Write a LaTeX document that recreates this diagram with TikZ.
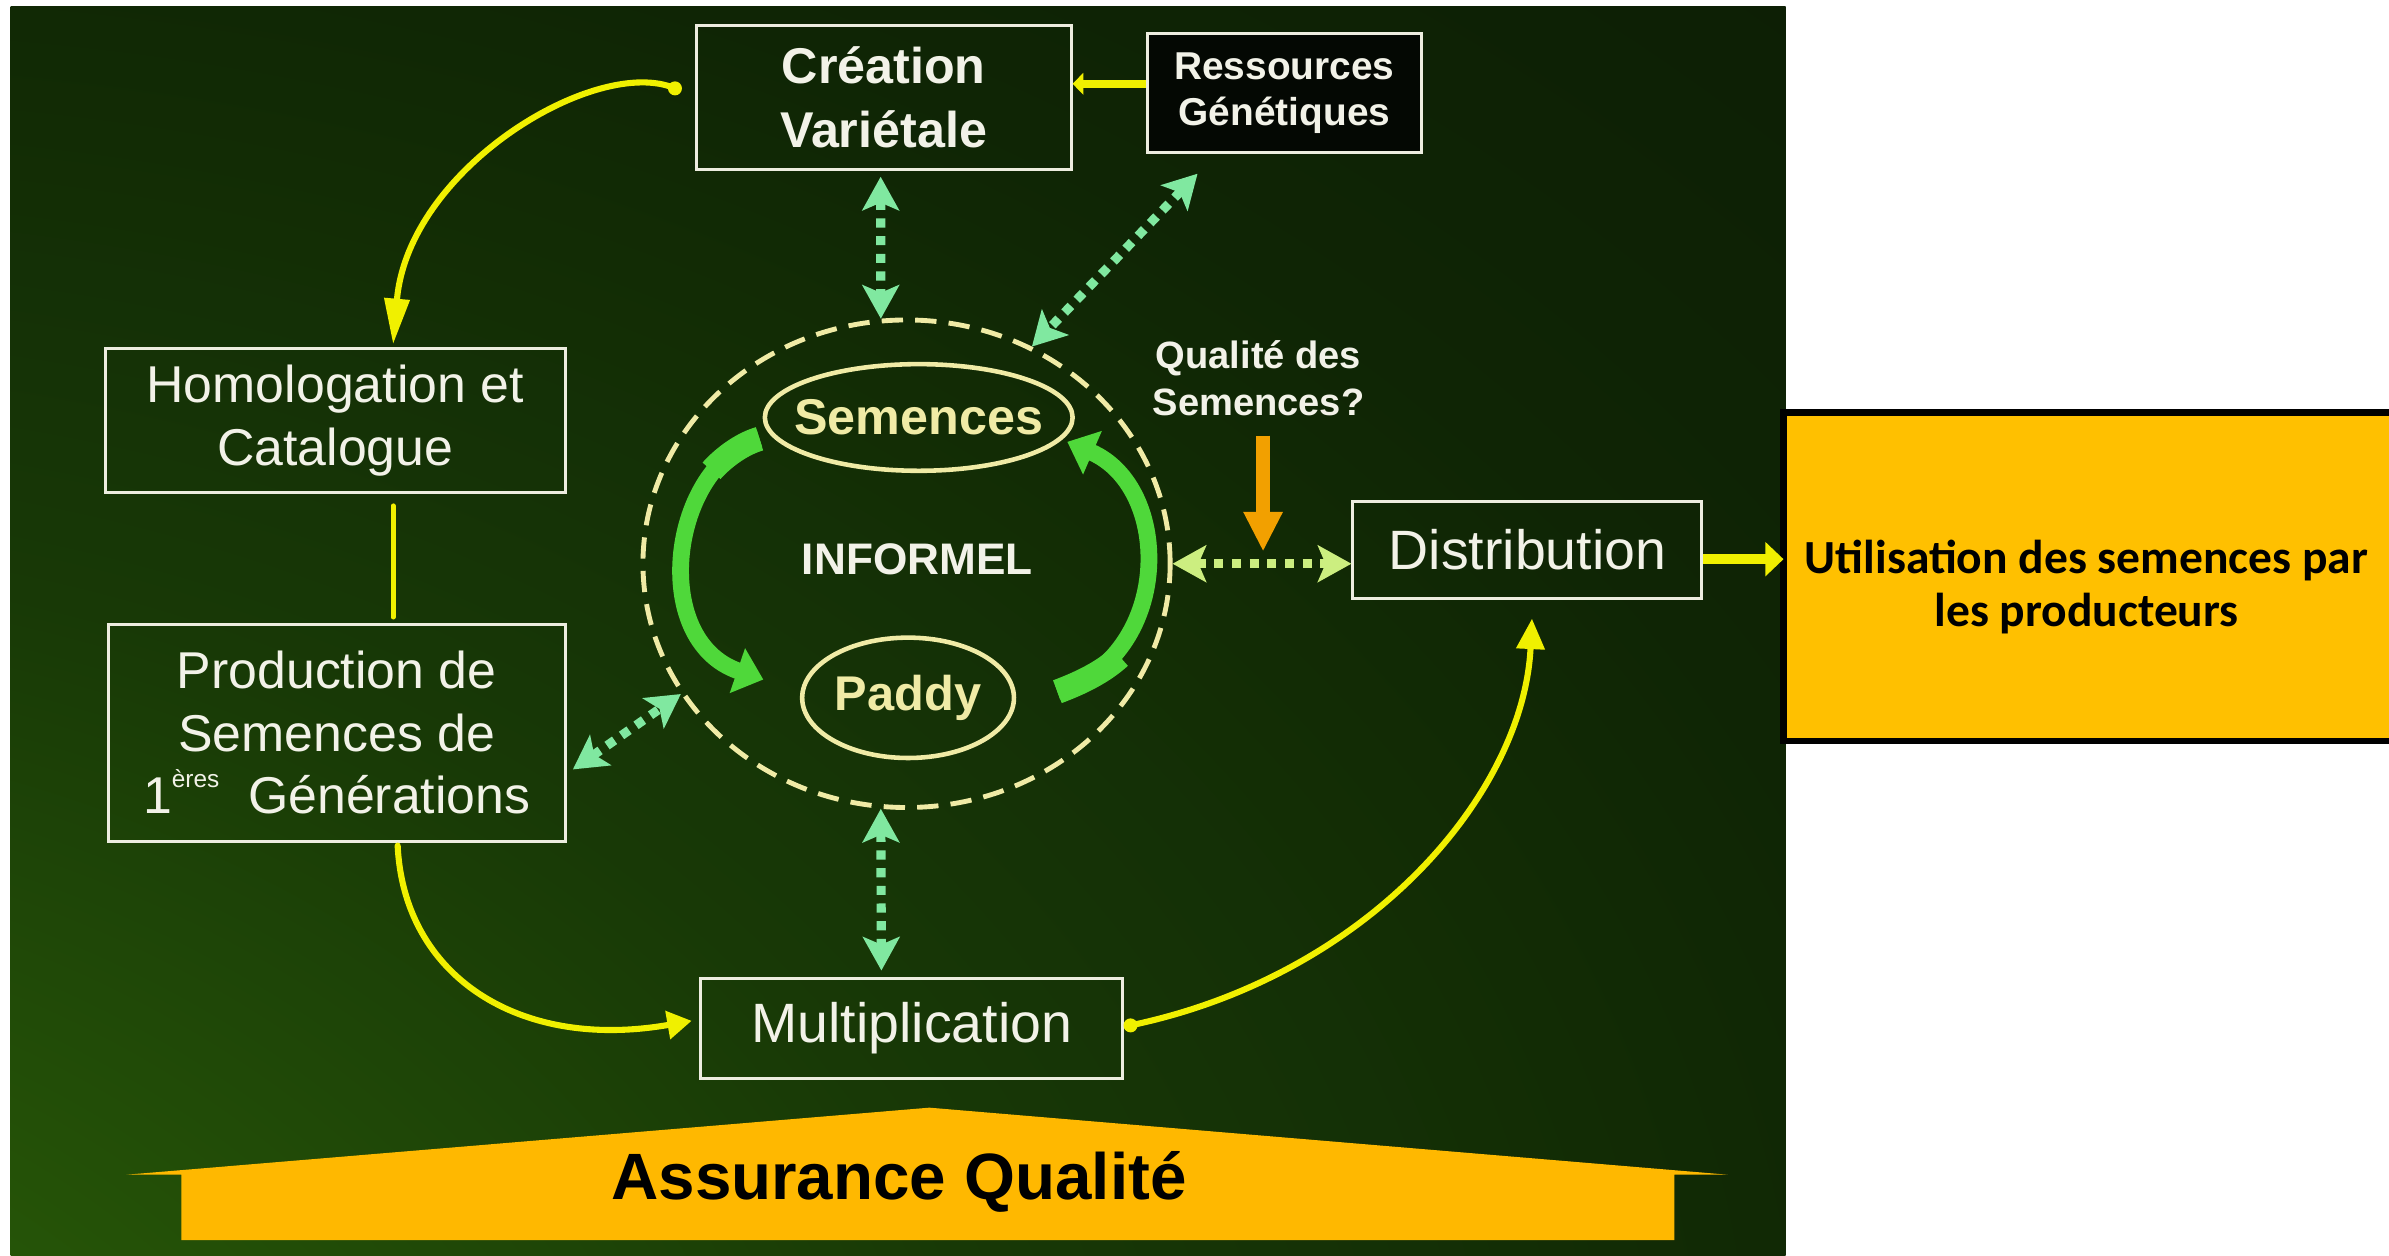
\documentclass[tikz,border=0pt]{standalone}
\usepackage{fontspec}
\setmainfont{Liberation Sans}
\newfontfamily\calibri{Carlito}
\usetikzlibrary{arrows.meta,shapes.geometric,calc}
\definecolor{bgA}{HTML}{3E8008}
\definecolor{bgB}{HTML}{295B08}
\definecolor{bgC}{HTML}{183906}
\definecolor{bgD}{HTML}{0F2505}
\definecolor{bgE}{HTML}{0A1904}
\definecolor{bgF}{HTML}{071103}
\definecolor{bgG}{HTML}{050B03}
\definecolor{resfill}{HTML}{040803}
\definecolor{boxline}{HTML}{EDEDE0}
\definecolor{txt}{HTML}{F2F2E8}
\definecolor{pale}{HTML}{F0EBA6}
\definecolor{mint}{HTML}{80E8A0}
\definecolor{limeg}{HTML}{CCEE80}
\definecolor{ylw}{HTML}{F0F000}
\definecolor{grn}{HTML}{4FD83A}
\definecolor{orng}{HTML}{F2A000}
\definecolor{gold}{HTML}{FFB800}
\definecolor{utilfill}{HTML}{FFC000}
\pgfdeclareradialshading{bgshade}{\pgfpoint{-50bp}{-50bp}}{color(0bp)=(bgA); color(20bp)=(bgB); color(40bp)=(bgC); color(60bp)=(bgD); color(85bp)=(bgE); color(115bp)=(bgF); color(150bp)=(bgG)}
\tikzset{
  stagebox/.style={draw=boxline, line width=1pt, text=txt, align=center, inner sep=0pt,
    font=\fontsize{17}{20.5}\selectfont},
  dotarrow/.style={draw=mint, line width=3pt, dash pattern=on 3pt off 2.8pt,
    arrows={Stealth[length=11pt,width=12pt,inset=2.5pt]-Stealth[length=11pt,width=12pt,inset=2.5pt]}},
  ycurve/.style={draw=ylw, line width=2pt, line cap=round},
  garrow/.style={draw=grn, line width=5.5pt, arrows={-Triangle[length=9pt,width=15pt]}},
  gtail/.style={draw=grn, line width=8pt},
  lbl/.style={text=pale, font=\bfseries\fontsize{16.5}{18}\selectfont},
  ring/.style={ellipse, draw=pale, line width=1.5pt, inner sep=0pt}
}
\begin{document}
\begin{tikzpicture}[x=0.5pt,y=-0.5pt]
\useasboundingbox (0,0) rectangle (1568,824);
\fill[white] (0,0) rectangle (1568,824);
\shade[shading=bgshade] (7,4) rectangle (1172,824);

% Assurance Qualite
\fill[gold] (83,771) -- (610,727) -- (1134,771) -- (1099,771) -- (1099,814) -- (119,814) -- (119,771) -- cycle;
\node[font=\bfseries\fontsize{21.5}{24}\selectfont, text=black] (aq) at (590,776) {Assurance Qualité};

% boxes
\node[stagebox, font=\bfseries\fontsize{16.5}{21}\selectfont, minimum width=123pt, minimum height=47pt] (crea) at (580,64) {Création\\Variétale};
\node[stagebox, fill=resfill, font=\bfseries\fontsize{12.75}{15}\selectfont, minimum width=90pt, minimum height=39pt] (res) at (843,61) {Ressources\\Génétiques};
\node[stagebox, minimum width=151pt, minimum height=47pt] (homo) at (220,276) {Homologation et\\Catalogue};
\node[stagebox, minimum width=150pt, minimum height=71pt] (prod) at (221,481) {Production de\\Semences de\\1\raisebox{0.5em}{\fontsize{8}{8}\selectfont ères}\ \ Générations};
\node[stagebox, font=\fontsize{18.2}{21}\selectfont, minimum width=138.5pt, minimum height=33pt] (mult) at (598.5,675) {Multiplication};
\node[stagebox, font=\fontsize{18.2}{21}\selectfont, minimum width=114.5pt, minimum height=32pt] (dist) at (1002.5,361) {Distribution};

% informal circle
\node[ring, line width=1.6pt, dash pattern=on 7pt off 4pt, minimum width=173pt, minimum height=160pt] (circ) at (595,370) {};
\node[ring, minimum width=101pt, minimum height=35pt, label={[lbl]center:Semences}] (sem) at (603,274) {};
\node[ring, minimum width=69.5pt, minimum height=39.5pt, label={[lbl, font=\bfseries\fontsize{16}{18}\selectfont]center:Paddy}] (paddy) at (596,458) {};
\node[text=txt, font=\bfseries\fontsize{14.5}{16}\selectfont] (inf) at (602,367) {INFORMEL};

\node[text=txt, font=\bfseries\fontsize{12.5}{15.5}\selectfont, align=center] (qual) at (826,248) {Qualité des\\Semences?};

% utilisation box
\node[fill=utilfill, minimum width=198.5pt, minimum height=107.5pt, inner sep=0pt,
  label={[text=black, align=center, yshift=-3.5pt, font=\calibri\bfseries\fontsize{15.6}{17.5}\selectfont]center:Utilisation des semences par\\les producteurs}] (util) at (1369.5,378.5) {};
\draw[black, line width=2.2pt] (util.north east) -- (util.north west) -- (util.south west) -- (util.south east);

% straight yellow arrows
\coordinate (y55) at (0,55);
\draw[ylw, line width=2.7pt, -{Triangle[length=3.5pt,width=7pt]}] (res.west |- y55) -- (crea.east |- y55);
\coordinate (y367) at (0,367);
\draw[ylw, line width=3.3pt, -{Triangle[length=6pt,width=11pt]}] (dist.east |- y367) -- (util.west |- y367);

% dotted double arrows
\draw[dotarrow] ($(crea.south)+(-2,4)$) -- (circ.96);
\draw[dotarrow] ($(res.south west)+(34,13)$) -- (circ.60);
\draw[dotarrow] ($(prod.east)+(4,24)$) -- (circ.210);
\draw[dotarrow] (circ.264) -- ($(mult.north)+(-20,-4)$);
\draw[dotarrow, draw=limeg] (circ.east) -- (dist.west |- circ.east);

% orange arrow
\coordinate (otip) at (829,362);
\draw[orng, line width=4.5pt, -{Triangle[length=13pt,width=12pt]}] ($(qual.south)+(3,6)$) -- (otip);

% yellow curved arrows
\draw[ycurve, -{Triangle[length=15pt,width=8pt]}] ($(crea.west)+(-13,-6)$) .. controls (392,36) and (268,110) .. ($(homo.north)+(38,-2)$);
\fill[ylw] ($(crea.west)+(-13,-6)$) circle (2.3pt);
\draw[ycurve, line width=1.6pt] ($(homo.south)+(38,8)$) -- ($(prod.north)+(37,-4)$);
\draw[ycurve, -{Triangle[length=8pt,width=9pt]}] ($(prod.south)+(40,2)$) .. controls (265,640) and (340,690) .. ($(mult.west)+(-5,-5)$);
\draw[ycurve, -{Triangle[length=10pt,width=9pt]}] ($(mult.east)+(4,-2)$) .. controls (900,640) and (1000,520) .. ($(dist.south)+(3,12)$);
\fill[ylw] ($(mult.east)+(4,-2)$) circle (2.3pt);

% green cycle arrows (thicker tails near their start)
\draw[garrow] ($(sem.west)+(-2,14)$) .. controls (440,305) and (425,420) .. ($(paddy.west)+(-24,-12)$);
\draw[gtail] ($(sem.west)+(-2,14)$) .. controls (488,291) and (476,299) .. (467,309);
\draw[garrow] ($(paddy.east)+(27,-4)$) .. controls (770,430) and (770,320) .. ($(sem.east)+(-5,16)$);
\draw[gtail] ($(paddy.east)+(27,-4)$) .. controls (710,448) and (724,441) .. (735,431);
\end{tikzpicture}
\end{document}
